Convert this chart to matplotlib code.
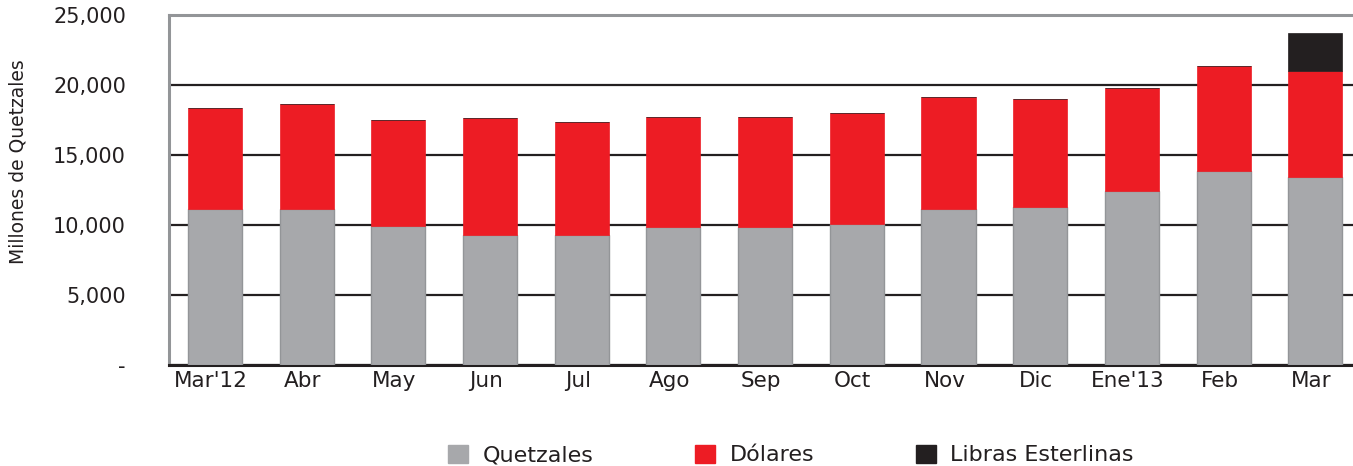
import numpy as np
import matplotlib
matplotlib.use("Agg")
import matplotlib.pyplot as plt
import matplotlib.transforms as mtransforms
from matplotlib.patches import Patch

plt.rcParams["font.family"] = ["DejaVu Sans"]

months = ["Mar'12", "Abr", "May", "Jun", "Jul", "Ago", "Sep", "Oct",
          "Nov", "Dic", "Ene'13", "Feb", "Mar"]
quetzales = [11120, 11120, 9950, 9290, 9290, 9860, 9860, 10070,
             11120, 11260, 12400, 13830, 13450]
dolares = [7260, 7520, 7530, 8350, 8070, 7850, 7850, 7930,
           8040, 7760, 7410, 7530, 7530]
libras = [0, 0, 0, 0, 0, 0, 0, 0, 0, 0, 0, 0, 2710]
yticks = [0, 5000, 10000, 15000, 20000, 25000]
ytick_labels = ["-", "5,000", "10,000", "15,000", "20,000", "25,000"]

GRAY = "#A7A8AB"
RED = "#ED1C24"
BLACK = "#231F20"

fig = plt.figure(figsize=(13.53, 4.66), dpi=100)
ax = fig.add_axes([169 / 1353, 1 - 365 / 466, 1 - 169 / 1353, (365 - 15) / 466])

x = np.arange(len(months))
q = np.array(quetzales)
d = np.array(dolares)
l = np.array(libras)
width = 0.59

ax.bar(x, q, width, color=GRAY, edgecolor="#939598", linewidth=1.0, zorder=3)
ax.bar(x, d, width, bottom=q, color=RED, edgecolor=RED, linewidth=0.5, zorder=3)
ax.bar(x, l, width, bottom=q + d, color=BLACK, edgecolor=BLACK, linewidth=0.5, zorder=3)

ax.set_xlim(-0.5, 12.41)
ax.set_ylim(0, 25000)
ax.set_yticks(yticks)
ax.set_yticklabels(ytick_labels, fontsize=15, color="#231F20")
ax.set_xticks(x)
ax.set_xticklabels(months, fontsize=15.5, color="#231F20")
ax.tick_params(axis="both", length=0)
ax.tick_params(axis="y", pad=31)
ax.tick_params(axis="x", pad=4)

# labels in the original sit a few pixels left of the bar centres
shift = mtransforms.ScaledTranslation(-4 / 100, 0, fig.dpi_scale_trans)
for lab in ax.get_xticklabels():
    lab.set_transform(lab.get_transform() + shift)

ax.grid(axis="y", color="#231F20", linewidth=1.6, zorder=0)
ax.set_axisbelow(True)
ax.spines["right"].set_visible(False)
ax.spines["top"].set_color("#939598")
ax.spines["top"].set_linewidth(2.2)
ax.spines["left"].set_color("#939598")
ax.spines["left"].set_linewidth(2.2)
ax.spines["bottom"].set_color("#231F20")
ax.spines["bottom"].set_linewidth(2.2)

fig.text(18 / 1353, 1 - 162 / 466, "Millones de Quetzales", rotation=90,
         ha="center", va="center", fontsize=13.5, color="#231F20")

handles = [Patch(facecolor=GRAY, edgecolor=GRAY, label="Quetzales"),
           Patch(facecolor=RED, edgecolor=RED, label="Dólares"),
           Patch(facecolor=BLACK, edgecolor=BLACK, label="Libras Esterlinas")]
fig.legend(handles=handles, loc="center", bbox_to_anchor=(791 / 1353, 1 - 455 / 466),
           ncol=3, frameon=False, fontsize=16, handlelength=0.9, handleheight=0.9,
           handletextpad=0.63, columnspacing=4.6, borderpad=0, labelcolor="#231F20")

fig.savefig("out.png", dpi=100)
plt.close(fig)
